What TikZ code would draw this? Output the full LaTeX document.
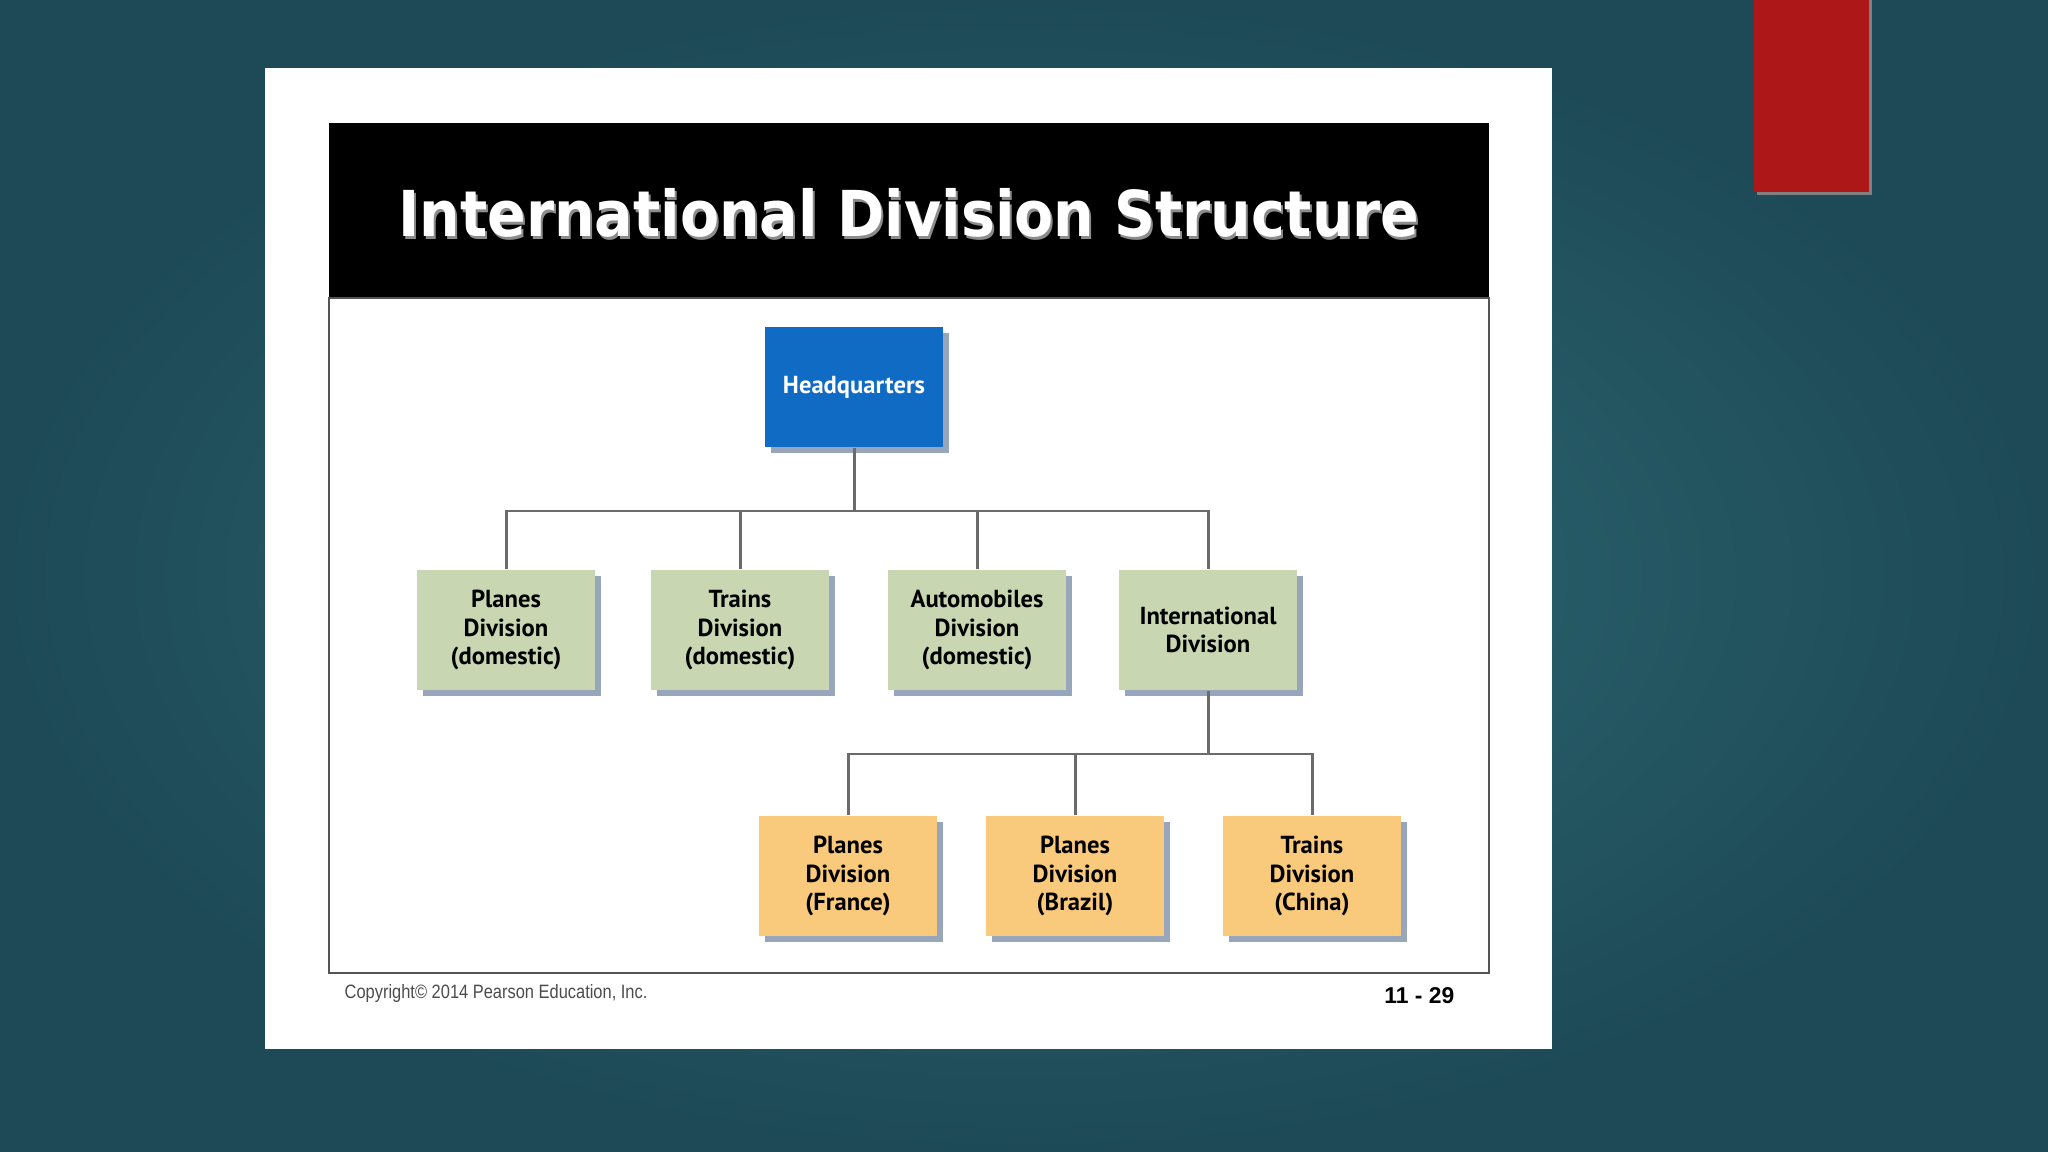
\documentclass[tikz,border=0pt]{standalone}
\usepackage{fontspec}
\setmainfont{Liberation Sans}
\newfontfamily\titlefont[FakeStretch=0.9]{DejaVu Sans}
\newfontfamily\boxfont{PT Sans}
\newfontfamily\notefont[FakeStretch=0.85]{Liberation Sans}
\usetikzlibrary{shadows}

\definecolor{bgin}{HTML}{2F6C77}
\definecolor{bgout}{HTML}{1D4A56}
\definecolor{slidered}{HTML}{AD1717}
\definecolor{hqblue}{HTML}{0F6BC4}
\definecolor{domgreen}{HTML}{C9D6B2}
\definecolor{abroadorange}{HTML}{F9C97C}
\definecolor{shadowblue}{HTML}{98A6BC}
\definecolor{linkgray}{HTML}{6B6B6B}
\definecolor{framegray}{HTML}{555555}

\begin{document}
\begin{tikzpicture}[
    x=0.01cm, y=-0.01cm,
    unit/.style={minimum width=1.78cm, minimum height=1.20cm, inner sep=0pt,
        align=center, font=\boxfont\bfseries\fontsize{7}{8}\selectfont,
        drop shadow={shadow xshift=0.06cm, shadow yshift=-0.06cm, fill=shadowblue, opacity=1}},
    hqunit/.style={unit, fill=hqblue, text=white},
    dom/.style={unit, fill=domgreen},
    abroad/.style={unit, fill=abroadorange},
    link/.style={draw=linkgray, line width=0.85pt}
]

% Background
\useasboundingbox (0,0) rectangle (2048,1152);
\shade[inner color=bgin, outer color=bgout] (0,0) rectangle (2048,1152);
\fill[black!50] (1757,0) rectangle (1872,195);
\fill[slidered] (1754,0) rectangle (1869,192);

% Slide
\fill[white] (265,68) rectangle (1552,1049);
\fill[black] (329,123) rectangle (1489,298);
\draw[framegray, line width=0.6pt] (329,298) rectangle (1489,973);

% Title
\node[font=\titlefont\bfseries\fontsize{18}{22}\selectfont, text=black!45] (titleshade) at (911,216) {International Division Structure};
\node[font=\titlefont\bfseries\fontsize{18}{22}\selectfont, text=white] (title) at (909,213) {International Division Structure};

% Units
\node[hqunit] (hq) at (854,387) {Headquarters};
\node[dom] (planes) at (506,630) {Planes\\Division\\(domestic)};
\node[dom] (trains) at (740,630) {Trains\\Division\\(domestic)};
\node[dom] (autos) at (977,630) {Automobiles\\Division\\(domestic)};
\node[dom] (intl) at (1208,630) {International\\Division};
\node[abroad] (france) at (848,876) {Planes\\Division\\(France)};
\node[abroad] (brazil) at (1075,876) {Planes\\Division\\(Brazil)};
\node[abroad] (china) at (1312,876) {Trains\\Division\\(China)};

% Links
\coordinate (upper) at (0,511);
\coordinate (lower) at (0,754);
\draw[link] (hq.south) -- (hq.south |- upper);
\draw[link] (planes.north) |- (intl.north |- upper) -- (intl.north);
\foreach \n in {trains,autos} {
    \draw[link] (\n.north) -- (\n.north |- upper);
}
\draw[link] (intl.south) -- (intl.south |- lower);
\draw[link] (france.north) |- (china.north |- lower) -- (china.north);
\draw[link] (brazil.north) -- (brazil.north |- lower);

% Footer
\node[anchor=west, inner sep=0pt, font=\notefont\fontsize{5.5}{6.5}\selectfont, text=black!70] (copy) at (344,993) {Copyright\copyright{} 2014 Pearson Education, Inc.};
\node[anchor=east, inner sep=0pt, font=\bfseries\fontsize{6.5}{7}\selectfont] (page) at (1455,996) {11 - 29};

\end{tikzpicture}
\end{document}
